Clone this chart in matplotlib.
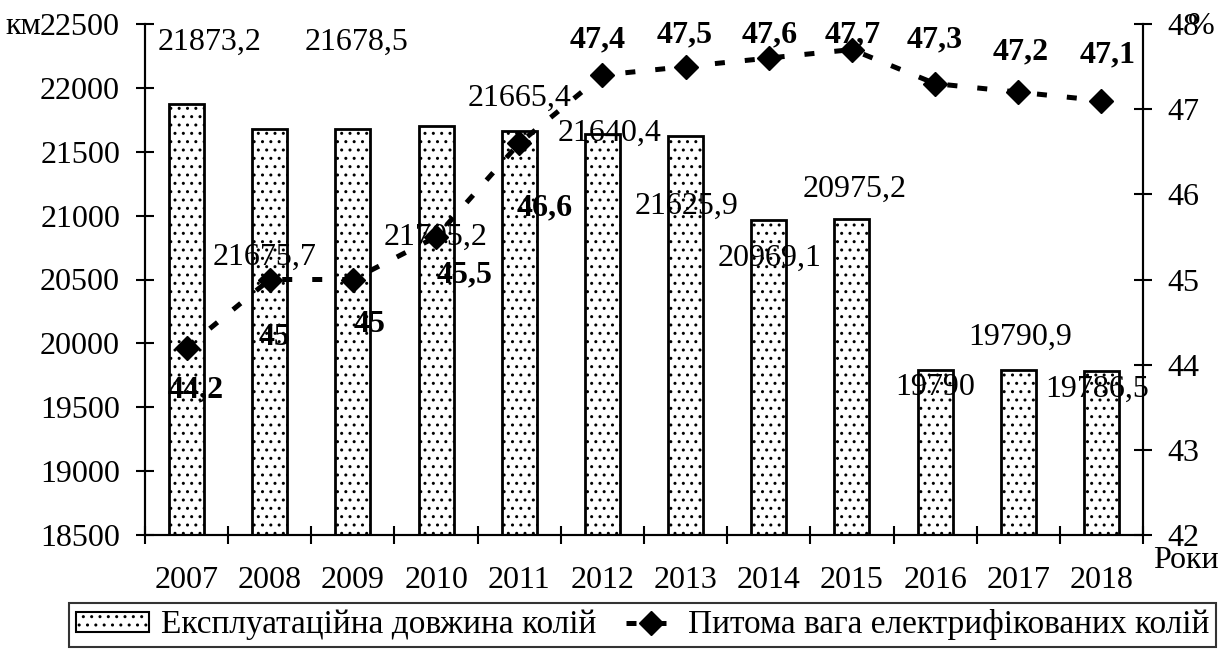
import matplotlib
matplotlib.use("Agg")
import numpy as np
import matplotlib.pyplot as plt
from matplotlib.patches import Patch
from matplotlib.lines import Line2D
from matplotlib.legend_handler import HandlerLine2D

years = ["2007", "2008", "2009", "2010", "2011", "2012", "2013", "2014", "2015", "2016", "2017", "2018"]
length_km = [21873.2, 21675.7, 21678.5, 21705.2, 21665.4, 21640.4, 21625.9, 20969.1, 20975.2, 19790, 19790.9, 19786.5]
length_labels = ["21873,2", "21675,7", "21678,5", "21705,2", "21665,4", "21640,4", "21625,9", "20969,1", "20975,2", "19790", "19790,9", "19786,5"]
share_pct = [44.2, 45, 45, 45.5, 46.6, 47.4, 47.5, 47.6, 47.7, 47.3, 47.2, 47.1]
share_labels = ["44,2", "45", "45", "45,5", "46,6", "47,4", "47,5", "47,6", "47,7", "47,3", "47,2", "47,1"]
left_ticks = [18500, 19000, 19500, 20000, 20500, 21000, 21500, 22000, 22500]
right_ticks = [42, 43, 44, 45, 46, 47, 48]

# label offsets in pixels (dx, dy) relative to bar top / marker
bar_off = [(23, 62), (-5, -128), (4, 87), (-1, -112), (0, 32), (7, 0), (1, -71), (1, -39), (3, 29), (0, -17), (2, 33), (-4, -19)]
line_off = [(9, -42), (5, -58), (17, -45), (28, -38), (25, -65), (-5, 35), (-1, 32), (1, 23), (1, 15), (0, 44), (2, 40), (6, 46)]

plt.rcParams['font.family'] = ['Liberation Serif', 'DejaVu Serif']
plt.rcParams['hatch.color'] = '#555555'
plt.rcParams['hatch.linewidth'] = 1.0

FS = 23
LFS = 24
DASH = (0, (2, 4))
W, H = 1227, 650
fig = plt.figure(figsize=(W / 100, H / 100), dpi=100)
ax = fig.add_axes([145 / W, 1 - 535 / H, (1143 - 145) / W, (535 - 24) / H])
ax2 = ax.twinx()

x = list(range(len(years)))
ax.bar(x, length_km, width=0.42, color='white', edgecolor='black', linewidth=2, hatch='..', zorder=2)
ax.set_xlim(-0.5, len(years) - 0.5)
ax.set_ylim(18500, 22500)
ax.set_yticks(left_ticks)
ax.set_yticklabels([str(t) for t in left_ticks])
ax.set_xticks([i - 0.5 for i in range(len(years) + 1)])
ax.set_xticklabels([])
ax.set_xticks(x, minor=True)
ax.set_xticklabels(years, minor=True)
ax.tick_params(axis='x', which='minor', length=0, pad=22, labelsize=FS)
ax.tick_params(axis='x', which='major', direction='inout', length=13, width=1.5)
ax.tick_params(axis='y', direction='inout', length=13, width=1.5, labelsize=FS, pad=11.5)

ax2.plot(x, share_pct, color='black', linestyle=DASH, linewidth=3.6,
         dash_capstyle='butt', marker='D', markersize=12, zorder=3)
ax2.set_ylim(42, 48)
ax2.set_yticks(right_ticks)
ax2.set_yticklabels([str(t) for t in right_ticks])
ax2.tick_params(axis='y', direction='inout', length=13, width=1.5, labelsize=FS, pad=11)

for a in (ax, ax2):
    a.spines['top'].set_visible(False)
    for s in ('left', 'right', 'bottom'):
        a.spines[s].set_linewidth(1.5)

k = 0.72  # px -> points
for i, v in enumerate(length_km):
    dx, dy = bar_off[i]
    ax.annotate(length_labels[i], (i, v), xytext=(dx * k, dy * k), textcoords='offset points',
                ha='center', va='center', fontsize=FS, zorder=5)
for i, v in enumerate(share_pct):
    dx, dy = line_off[i]
    ax2.annotate(share_labels[i], (i, v), xytext=(dx * k, dy * k), textcoords='offset points',
                 ha='center', va='center', fontsize=FS, fontweight='bold', zorder=5)

fig.text(41 / W, 1 - 26 / H, "км", ha='right', va='center', fontsize=FS)
fig.text(1188 / W, 1 - 26 / H, "%", ha='left', va='center', fontsize=FS)
fig.text(1153 / W, 1 - 560 / H, "Роки", ha='left', va='center', fontsize=FS)


class ShortLine(HandlerLine2D):
    def get_xdata(self, legend, xdescent, ydescent, width, height, fontsize):
        half = 18
        right = -xdescent + width
        xd = np.array([right - 2 * half, right])
        return xd, np.array([right - half])


handles = [Patch(facecolor='white', edgecolor='black', hatch='..', linewidth=1.5),
           Line2D([0], [0], color='black', linestyle=DASH, linewidth=3.6, dash_capstyle='butt',
                  marker='D', markersize=12)]
leg = fig.legend(handles, ["Експлуатаційна довжина колій", "Питома вага електрифікованих колій"],
                 loc='center', bbox_to_anchor=(642.5 / W, 1 - 625 / H), ncol=2, fontsize=LFS,
                 frameon=True, fancybox=False, edgecolor='black', handlelength=2.2,
                 handleheight=0.55, columnspacing=0.2, handletextpad=0.35, borderpad=0.2,
                 handler_map={handles[1]: ShortLine()})
leg.get_frame().set_linewidth(1.5)

fig.savefig("out.png", dpi=100)
